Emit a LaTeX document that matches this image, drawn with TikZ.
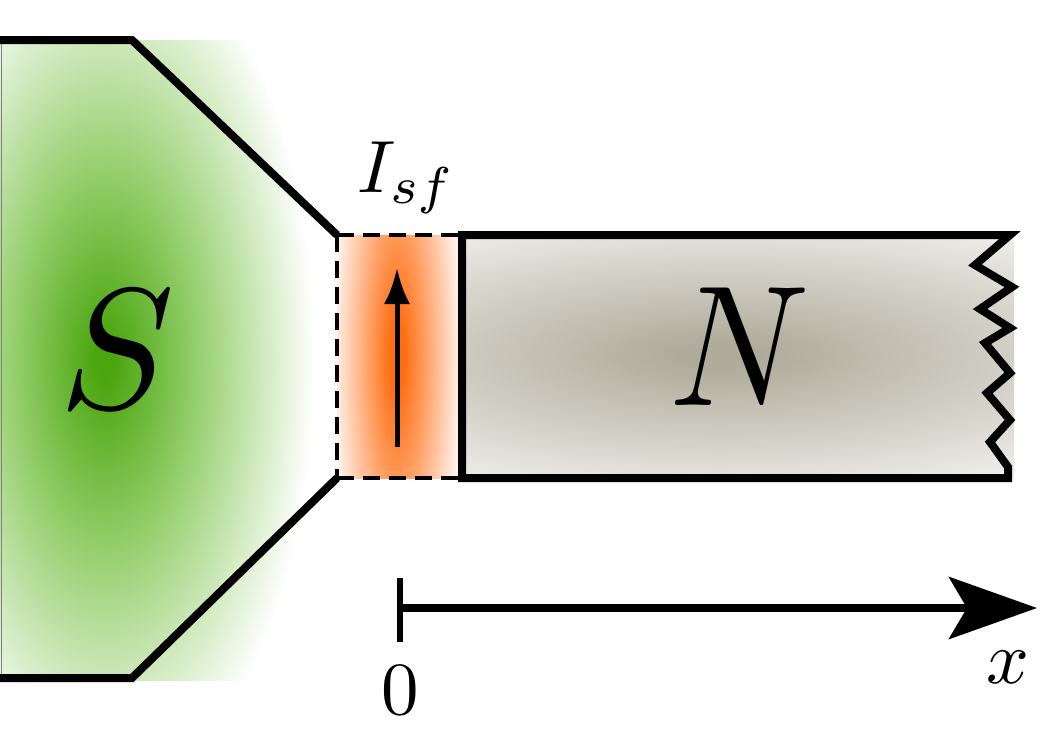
\documentclass[tikz,border=0pt]{standalone}
\usetikzlibrary{arrows.meta}
\definecolor{gS}{RGB}{74,165,14}
\definecolor{gM}{RGB}{150,207,110}
\definecolor{oC}{RGB}{255,110,18}
\definecolor{oE}{RGB}{255,240,232}
\definecolor{nC}{RGB}{176,171,155}
\definecolor{nE}{RGB}{241,240,236}
\pgfdeclareradialshading{greenglow}{\pgfpointorigin}{color(0bp)=(gS); color(1bp)=(gS); color(11bp)=(gM); color(25bp)=(white); color(50bp)=(white)}
\pgfdeclareradialshading{orangeglow}{\pgfpointorigin}{color(0bp)=(oC); color(3bp)=(oC); color(25bp)=(oE); color(50bp)=(oE)}
\pgfdeclareradialshading{grayglow}{\pgfpointorigin}{color(0bp)=(nC); color(2bp)=(nC); color(25bp)=(nE); color(50bp)=(nE)}
\tikzset{
  thickline/.style={line width=8pt, line join=miter},
  dashline/.style={line width=4pt, dash pattern=on 17pt off 9pt},
  biglabel/.style={scale=17.2, inner sep=0pt},
  smalllabel/.style={scale=7.5, inner sep=0pt}
}
\begin{document}
\begin{tikzpicture}[x=1pt,y=-1pt]
\useasboundingbox (0,0) rectangle (1053,745);
% superconductor glow
\begin{scope}
  \clip (0,40) rectangle (312,680);
  \shade[shading=greenglow] (-105,-75) rectangle (315,795);
\end{scope}
% interface glow
\begin{scope}
  \clip (337,235) rectangle (460,478);
  \shade[shading=orangeglow] (335,56) rectangle (459,656);
\end{scope}
% normal metal shading
\begin{scope}
  \clip (462,235) rectangle (1014,478);
  \shade[shading=grayglow] (200,205) rectangle (1240,505);
\end{scope}
% S outline
\draw[gray, line width=1pt] (1,40) -- (1,678);
\draw[thickline] (0,40) -- (132,40) -- (337,235);
\draw[thickline] (337,478) -- (132,678) -- (0,678);
% dashed interface box
\draw[dashline] (337,235) -- (337,478);
\draw[dashline] (337,235) -- (460,235);
\draw[dashline] (337,478) -- (460,478);
% N box with broken right edge
\draw[thickline] (462,235) -- (1010,235) -- (975,265) -- (1012,287) -- (980,309) -- (1010,328) -- (985,343) -- (1010,373) -- (987,393) -- (1010,420) -- (990,442) -- (1008,467) -- (1008,478) -- (462,478) -- cycle;
% spin current arrow
\coordinate (cur0) at (397,447);
\coordinate (cur1) at (397,268);
\draw[line width=5pt, -{Latex[length=36pt,width=26pt]}] (cur0) -- (cur1);
% x axis
\coordinate (tk0) at (400,578);
\coordinate (tk1) at (400,642);
\coordinate (ax0) at (397,608);
\coordinate (ax1) at (1037,608);
\draw[line width=6pt] (tk0) -- (tk1);
\draw[line width=8pt, -{Stealth[length=88pt,width=62pt,inset=18pt]}] (ax0) -- (ax1);
% labels
\node[biglabel] (Slab) at (117,350) {$S$};
\node[xscale=15.4, yscale=17.2, inner sep=0pt] (Nlab) at (740,347) {$N$};
\node[scale=7.4, inner sep=0pt, anchor=base west] (Ilab) at (356,192) {$I_{sf}$};
\node[smalllabel] (zero) at (400,690) {$0$};
\node[smalllabel] (xlab) at (1008,667) {$x$};
\end{tikzpicture}
\end{document}
